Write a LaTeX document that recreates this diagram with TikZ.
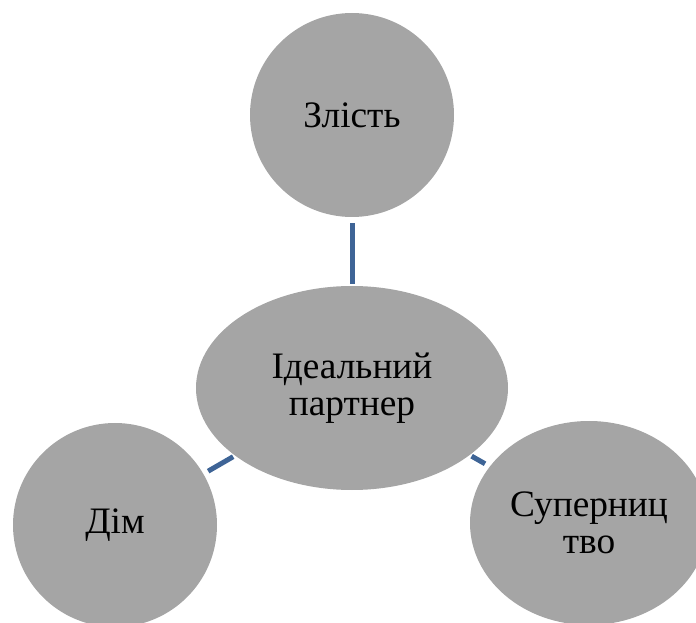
\documentclass[tikz,border=0pt]{standalone}
\usepackage{fontspec}
\setmainfont{Liberation Serif}
\usepackage{tikz}
\usetikzlibrary{shapes.geometric}
\definecolor{bubblegray}{RGB}{165,165,165}
\definecolor{linkblue}{RGB}{62,100,150}

\begin{document}
\begin{tikzpicture}[x=0.75pt, y=-0.75pt, font=\fontsize{28}{27.75}\selectfont,
    bubble/.style={ellipse, fill=bubblegray, inner sep=0pt, align=center, minimum width=153pt, minimum height=153pt},
    link/.style={draw=linkblue, line width=3.75pt, shorten <=1.5pt, shorten >=4pt}]
        \clip (0,0) rectangle (696,623);
        \node[bubble, minimum width=234pt] (ideal) at (352,388) {Ідеальний\\партнер};
        \node[bubble] (zlist) at (352,115) {Злість};
        \node[bubble] (dim) at (115,525) {Дім};
        \node[bubble, minimum width=178.5pt] (super) at (589,523) {Суперниц\\тво};

        \draw[link] (ideal) -- (zlist);
        \draw[link] (ideal) -- (dim);
        \draw[link] (ideal) -- (super);
      \end{tikzpicture}
\end{document}
